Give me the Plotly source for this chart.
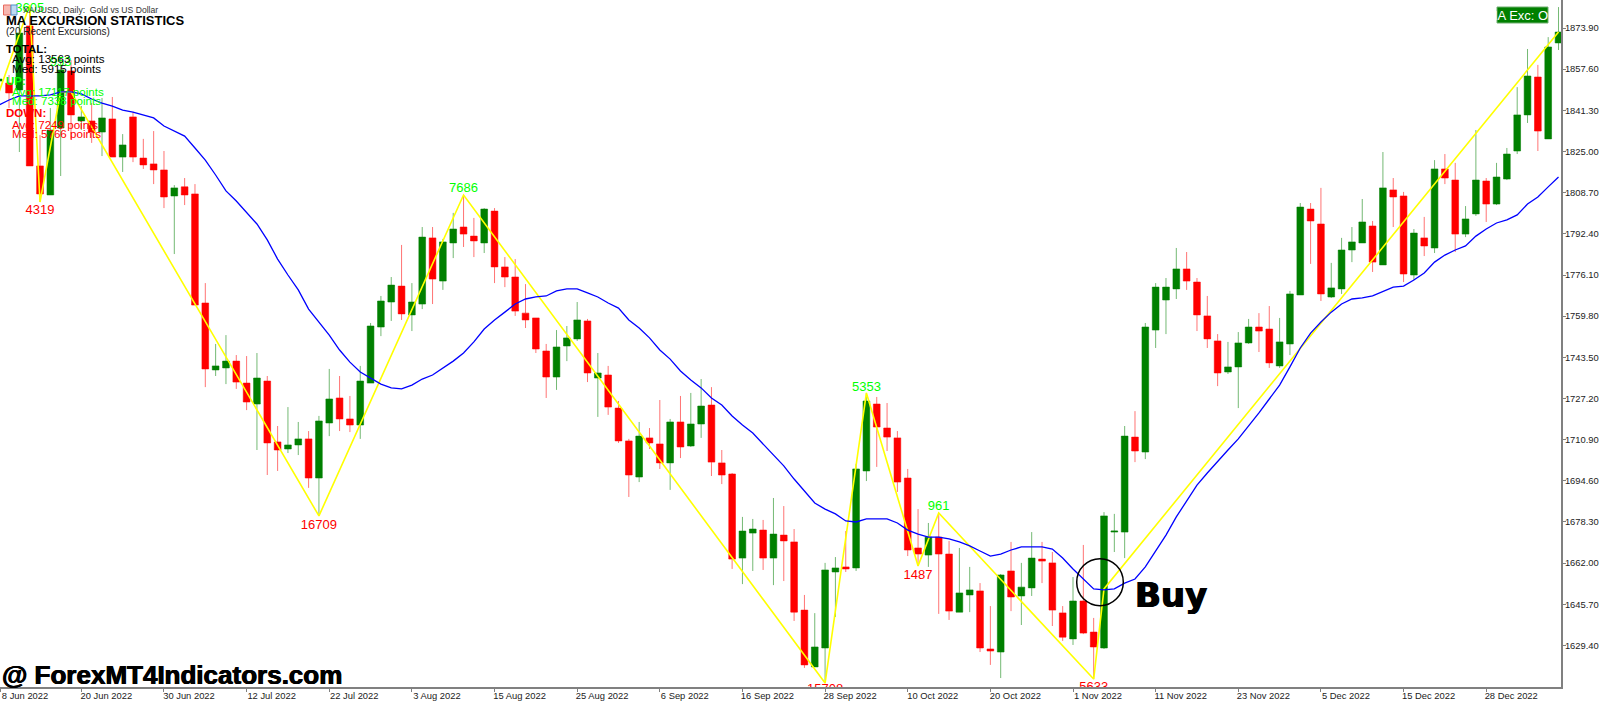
import plotly.graph_objects as go

# ---------- data ----------
opens = [1852.9,1852.1,1849.4,1874.7,1819.3,1807.8,1834.3,1856.9,1837.1,1837.1,1832.7,1837.9,1822.8,1838.7,1822.4,1820.1,1817.7,1807.4,1811.0,1808.2,
1765.0,1738.5,1739.3,1742.0,1733.3,1725.0,1734.1,1710.0,1707.2,1708.8,1711.2,1695.7,1717.5,1727.4,1719.1,1716.7,1733.3,1755.5,1765.4,1771.7,
1760.3,1764.6,1790.8,1773.7,1788.8,1795.1,1791.5,1788.8,1801.4,1779.3,1775.3,1761.0,1759.1,1746.0,1735.7,1748.0,1750.8,1757.9,1735.3,1736.5,
1723.4,1710.4,1696.1,1711.6,1709.2,1701.7,1717.9,1708.4,1717.1,1724.6,1701.7,1697.3,1664.0,1673.9,1675.1,1664.0,1673.1,1670.4,1643.4,1620.9,
1628.4,1658.5,1660.5,1660.1,1698.5,1725.0,1715.5,1711.6,1695.7,1668.0,1665.2,1672.3,1665.6,1642.6,1649.4,1651.0,1628.0,1626.8,1658.9,1649.0,
1652.2,1663.6,1662.1,1642.3,1632.0,1647.0,1634.7,1628.4,1674.3,1674.3,1711.9,1706.0,1754.3,1766.2,1770.6,1778.5,1773.3,1759.9,1750.0,1737.7,
1739.7,1749.2,1755.5,1754.7,1740.1,1748.8,1768.2,1802.2,1796.3,1767.4,1770.6,1786.0,1788.8,1795.5,1780.1,1809.8,1807.4,1776.1,1790.8,1786.8,
1818.1,1813.7,1792.3,1800.3,1813.3,1804.2,1814.1,1825.2,1839.5,1854.5,1830.0,1868.0]
highs = [1857.3,1855.3,1877.1,1883.0,1831.5,1842.2,1862.0,1861.2,1843.0,1844.2,1846.2,1846.6,1831.9,1840.6,1830.0,1833.1,1825.2,1811.7,1814.5,1812.1,
1772.9,1748.8,1752.3,1744.4,1744.0,1745.2,1736.1,1716.3,1723.8,1717.9,1714.3,1720.3,1738.9,1736.1,1728.2,1740.1,1757.1,1767.8,1775.3,1788.0,
1772.9,1795.1,1795.1,1790.4,1800.7,1807.8,1798.7,1802.6,1802.6,1783.2,1782.4,1772.5,1759.1,1748.8,1754.3,1755.9,1765.4,1758.7,1745.2,1740.1,
1726.2,1711.2,1717.9,1715.5,1726.6,1719.1,1728.2,1729.4,1734.9,1731.7,1706.8,1697.7,1680.3,1679.5,1679.1,1687.8,1684.6,1675.5,1649.4,1642.2,
1662.1,1664.4,1674.7,1701.3,1729.4,1727.8,1725.4,1714.3,1699.3,1683.4,1677.9,1681.9,1670.8,1668.0,1660.5,1654.1,1645.0,1657.7,1670.4,1662.1,
1674.3,1670.4,1666.4,1645.0,1656.5,1669.2,1640.3,1682.2,1681.5,1716.3,1722.2,1757.1,1772.9,1774.9,1786.8,1785.2,1774.9,1767.8,1752.7,1749.6,
1753.5,1758.7,1761.0,1763.8,1759.1,1769.8,1804.6,1804.6,1810.6,1780.9,1790.8,1795.1,1806.2,1797.5,1824.8,1814.5,1809.0,1794.3,1799.1,1821.6,
1824.0,1820.5,1803.4,1833.5,1814.5,1820.5,1826.4,1850.5,1865.6,1859.3,1870.3,1882.2]
lows = [1849.4,1842.2,1824.8,1819.3,1805.0,1807.8,1815.3,1830.0,1833.5,1828.4,1823.2,1822.8,1816.9,1820.8,1818.1,1812.1,1802.6,1784.4,1803.8,1764.2,
1731.7,1736.1,1732.9,1731.0,1722.6,1706.8,1696.9,1698.5,1705.6,1704.8,1691.8,1680.7,1712.3,1714.3,1713.9,1711.2,1733.3,1751.9,1757.9,1758.3,
1753.9,1762.6,1764.6,1770.2,1782.8,1787.2,1783.2,1784.8,1772.9,1771.3,1759.9,1755.1,1745.2,1727.4,1730.6,1742.0,1750.0,1733.7,1719.9,1720.7,
1709.6,1688.2,1694.1,1707.2,1699.3,1691.0,1703.6,1708.0,1711.6,1696.5,1693.3,1659.7,1653.7,1658.9,1659.3,1653.3,1654.9,1639.1,1620.5,1620.9,
1614.5,1640.7,1658.5,1658.9,1694.5,1700.1,1706.4,1690.2,1664.8,1660.9,1660.5,1641.9,1639.5,1642.6,1642.6,1626.8,1621.7,1616.5,1643.0,1637.5,
1649.0,1654.1,1637.1,1631.2,1629.6,1633.9,1616.1,1628.0,1666.4,1664.0,1702.0,1703.2,1747.2,1752.7,1766.6,1770.2,1753.9,1747.2,1732.1,1736.9,
1723.4,1748.8,1745.6,1739.3,1739.3,1744.4,1768.2,1780.5,1765.8,1767.0,1768.6,1781.2,1788.8,1777.3,1780.1,1795.1,1773.3,1774.1,1783.6,1784.8,
1812.1,1785.2,1791.1,1799.5,1797.1,1803.8,1813.7,1824.0,1836.3,1825.2,1830.0,1865.2]
closes = [1853.7,1848.2,1871.9,1819.3,1808.2,1833.5,1857.3,1839.5,1838.7,1832.7,1838.3,1822.8,1827.6,1822.8,1819.7,1817.7,1807.0,1810.6,1807.8,1764.2,
1738.9,1740.1,1742.0,1733.7,1725.8,1735.3,1709.6,1706.8,1708.8,1711.2,1695.7,1718.3,1727.0,1719.1,1716.7,1734.1,1755.9,1765.8,1772.1,1760.7,
1765.4,1791.1,1774.5,1789.2,1794.3,1792.3,1789.6,1802.2,1779.3,1775.3,1761.8,1758.3,1746.8,1735.7,1747.6,1751.2,1758.3,1737.3,1737.3,1723.8,
1710.4,1696.9,1712.3,1709.6,1701.7,1717.9,1708.0,1717.1,1724.2,1702.0,1696.9,1663.6,1674.7,1675.5,1664.0,1673.5,1670.8,1642.6,1621.7,1628.8,
1659.3,1660.1,1659.7,1699.3,1726.2,1715.9,1711.9,1694.1,1667.2,1665.6,1672.3,1665.6,1643.0,1650.2,1651.4,1628.4,1627.2,1657.3,1648.6,1652.5,
1664.0,1662.8,1643.4,1632.7,1647.0,1634.3,1628.8,1680.7,1674.7,1712.3,1706.4,1755.5,1771.3,1771.3,1778.5,1773.7,1760.3,1750.8,1737.3,1739.7,
1749.2,1755.5,1753.9,1741.3,1749.6,1768.6,1803.0,1797.5,1768.6,1771.0,1786.0,1789.2,1797.1,1781.2,1810.6,1807.0,1776.5,1792.7,1787.6,1818.1,
1814.5,1792.3,1798.3,1813.7,1804.2,1814.9,1824.0,1839.5,1854.9,1833.1,1866.4,1872.3]
ma_line = [1843.4,1845.4,1847.0,1847.0,1847.0,1847.4,1848.6,1848.6,1847.8,1845.8,1844.2,1843.0,1841.4,1840.6,1839.5,1838.3,1835.1,1833.1,1831.1,1826.4,
1821.6,1815.7,1809.4,1805.4,1801.0,1796.3,1790.0,1782.4,1776.1,1770.2,1762.6,1757.5,1752.3,1746.4,1741.6,1737.7,1735.3,1732.9,1731.4,1731.0,
1732.5,1734.9,1736.5,1739.3,1742.0,1745.2,1749.6,1754.7,1758.3,1761.4,1764.6,1766.6,1767.4,1767.8,1769.8,1770.6,1770.6,1769.0,1767.4,1765.0,
1763.0,1758.3,1755.1,1751.2,1746.4,1742.8,1738.1,1734.5,1731.4,1727.4,1724.6,1720.3,1716.7,1713.5,1709.2,1704.8,1700.5,1695.3,1690.6,1685.8,
1683.4,1681.5,1678.7,1678.3,1679.5,1679.5,1679.5,1677.9,1675.1,1673.5,1672.3,1672.3,1671.6,1670.4,1668.8,1666.8,1664.8,1665.6,1667.2,1668.4,
1668.4,1668.4,1667.6,1664.0,1659.7,1655.7,1651.8,1651.4,1651.8,1654.1,1655.7,1660.5,1666.8,1673.1,1680.3,1686.6,1692.9,1697.7,1702.4,1706.8,
1711.2,1716.3,1721.5,1727.0,1732.5,1739.7,1747.2,1753.1,1757.5,1761.4,1764.6,1766.6,1767.0,1767.8,1769.4,1771.3,1771.7,1774.1,1776.9,1781.2,
1784.0,1786.0,1787.6,1791.5,1794.3,1796.7,1797.9,1799.9,1804.2,1807.0,1811.0,1814.9]

zig_index = [0,3,4,6,7,31,45,80,84,89,91,106,107,151]
zig_price = [1848.2,1883.0,1805.0,1848.6,1848.6,1680.7,1807.8,1614.5,1729.4,1660.9,1681.9,1616.1,1651.8,1872.3]

label_index = [3,4,6,31,45,80,84,89,91,106]
label_price = [1881.6,1801.6,1860.2,1676.9,1810.4,1611.8,1731.5,1657.1,1684.4,1612.7]
label_text = ["3605","4319","953","16709","7686","15708","5353","1487","961","5633"]
label_color = ["#00FF00","#FF0000","#00FF00","#FF0000","#00FF00","#FF0000","#00FF00","#FF0000","#00FF00","#FF0000"]

x_tick_index = [0.13,8,16,24,32,40,48,56,64,72,80,88,96,104,112,120,128,136,144]
x_tick_text = ["8 Jun 2022","20 Jun 2022","30 Jun 2022","12 Jul 2022","22 Jul 2022","3 Aug 2022","15 Aug 2022",
               "25 Aug 2022","6 Sep 2022","16 Sep 2022","28 Sep 2022","10 Oct 2022","20 Oct 2022","1 Nov 2022",
               "11 Nov 2022","23 Nov 2022","5 Dec 2022","15 Dec 2022","28 Dec 2022"]
y_tick_val = [1873.9,1857.6,1841.3,1825.0,1808.7,1792.4,1776.1,1759.8,1743.5,1727.2,1710.9,1694.6,1678.3,1662.0,1645.7,1629.4]
y_tick_text = ["1873.90","1857.60","1841.30","1825.00","1808.70","1792.40","1776.10","1759.80",
               "1743.50","1727.20","1710.90","1694.60","1678.30","1662.00","1645.70","1629.40"]

stat_lines = [
    ("MA EXCURSION STATISTICS", 5, 20.5, "#000000", 13, True),
    ("(20 Recent Excursions)", 5, 32, "#222222", 10, False),
    ("TOTAL:", 5, 49, "#000000", 11.5, True),
    ("Avg: 13563 points", 11, 59, "#000000", 11.6, False),
    ("Med: 5915 points", 11, 68.5, "#000000", 11.6, False),
    ("UP:", 5, 81, "#00FF00", 11.5, True),
    ("Avg: 17117 points", 11, 91, "#00FF00", 11.6, False),
    ("Med: 7338 points", 11, 101, "#00FF00", 11.6, False),
    ("DOWN:", 5, 113, "#FF0000", 11.5, True),
    ("Avg: 7249 points", 11, 124, "#FF0000", 11.6, False),
    ("Med: 5766 points", 11, 133, "#FF0000", 11.6, False),
]

# ---------- layout geometry ----------
W, H = 1600, 703
PLOT_W, PLOT_H = 1561, 687
bar_index = list(range(len(opens)))


def px(v):
    return v / PLOT_W


def py(v):
    return 1 - v / PLOT_H


fig = go.Figure()
fig.add_trace(go.Candlestick(
    x=bar_index, open=opens, high=highs, low=lows, close=closes,
    increasing=dict(fillcolor="#008000", line=dict(color="rgba(0,128,0,0.55)", width=1)),
    decreasing=dict(fillcolor="#FF0000", line=dict(color="rgba(255,0,0,0.55)", width=1)),
    whiskerwidth=0, hoverinfo="skip", showlegend=False))
fig.add_trace(go.Scatter(x=zig_index, y=zig_price, mode="lines",
                         line=dict(color="#FFFF00", width=1.6), hoverinfo="skip", showlegend=False))
fig.add_trace(go.Scatter(x=bar_index, y=ma_line, mode="lines",
                         line=dict(color="#0000FF", width=1.3), hoverinfo="skip", showlegend=False))
fig.add_trace(go.Scatter(x=label_index, y=label_price, mode="text", text=label_text,
                         textposition="middle center", cliponaxis=True,
                         textfont=dict(family="Liberation Sans", size=13, color=label_color),
                         hoverinfo="skip", showlegend=False))

ann = []
for text, x, y, color, size, bold in stat_lines:
    ann.append(dict(text=f"<b>{text}</b>" if bold else text, xref="paper", yref="paper",
                    x=px(x), y=py(y), xanchor="left", yanchor="middle", showarrow=False,
                    borderpad=0, font=dict(family="Liberation Sans", size=size, color=color)))
ann.append(dict(text="XAUUSD, Daily:  Gold vs US Dollar", xref="paper", yref="paper", x=px(22), y=py(10),
                xanchor="left", yanchor="middle", showarrow=False, borderpad=0,
                font=dict(family="Liberation Sans", size=8.6, color="#333333")))
ann.append(dict(text="IA Exc: OI", xref="paper", yref="paper", x=px(1522.5), y=py(15),
                xanchor="center", yanchor="middle", showarrow=False, borderpad=0,
                font=dict(family="Liberation Sans", size=13, color="#FFFFFF")))
ann.append(dict(text="<b>Buy</b>", xref="paper", yref="paper", x=px(1134), y=py(595),
                xanchor="left", yanchor="middle", showarrow=False, borderpad=0,
                font=dict(family="DejaVu Sans", size=34, color="#000000",
                          shadow="0.7px 0 0 #000, -0.7px 0 0 #000")))
ann.append(dict(text="<b>@ ForexMT4Indicators.com</b>", xref="paper", yref="paper", x=px(1), y=py(675),
                xanchor="left", yanchor="middle", showarrow=False, borderpad=0,
                font=dict(family="Liberation Sans", size=26, color="#000000",
                          shadow="0.5px 0 0 #000, -0.5px 0 0 #000")))

shapes = [
    dict(type="circle", xref="paper", yref="paper", x0=px(1076.7), x1=px(1123.3), y0=py(558.7), y1=py(605.7),
         line=dict(color="#000000", width=1.5)),
    dict(type="rect", xref="paper", yref="paper", x0=px(1497), x1=px(1548), y0=py(7), y1=py(23),
         fillcolor="#008000", line=dict(color="#6FAF6F", width=1), layer="above"),
    dict(type="rect", xref="paper", yref="paper", x0=px(3.5), x1=px(11), y0=py(5), y1=py(15),
         fillcolor="#F7B7B0", line=dict(color="#E86A5E", width=1)),
    dict(type="rect", xref="paper", yref="paper", x0=px(11), x1=px(17), y0=py(5), y1=py(15),
         fillcolor="#BFD9F2", line=dict(color="#4F8FC9", width=1)),
]

fig.update_layout(
    width=W, height=H, margin=dict(l=0, r=W - PLOT_W, t=0, b=H - PLOT_H, autoexpand=False),
    paper_bgcolor="#FFFFFF", plot_bgcolor="#FFFFFF", showlegend=False, boxgap=0.35, boxgroupgap=0,
    annotations=ann, shapes=shapes, font=dict(family="Liberation Sans", color="#222222"),
    xaxis=dict(range=[0.126, 151.24], rangeslider=dict(visible=False), showgrid=False, zeroline=False,
               tickmode="array", tickvals=x_tick_index, ticktext=x_tick_text, ticks="outside", ticklen=3,
               tickcolor="#808080", tickwidth=1, showline=True, linecolor="#808080", linewidth=2,
               ticklabelshift=25, ticklabelstandoff=-4, tickangle=0,
               tickfont=dict(family="Liberation Sans", size=9.4, color="#222222")),
    yaxis=dict(range=[1612.95, 1885.0], side="right", showgrid=False, zeroline=False,
               tickmode="array", tickvals=y_tick_val, ticktext=y_tick_text, ticks="outside", ticklen=3,
               tickcolor="#808080", tickwidth=1, showline=True, linecolor="#808080", linewidth=2,
               ticklabelstandoff=-3,
               tickfont=dict(family="Liberation Sans", size=9.4, color="#222222")),
)

fig.write_html("out.html", config=dict(displayModeBar=False),
               post_script="document.body.style.margin='0';document.body.style.overflow='hidden';")
